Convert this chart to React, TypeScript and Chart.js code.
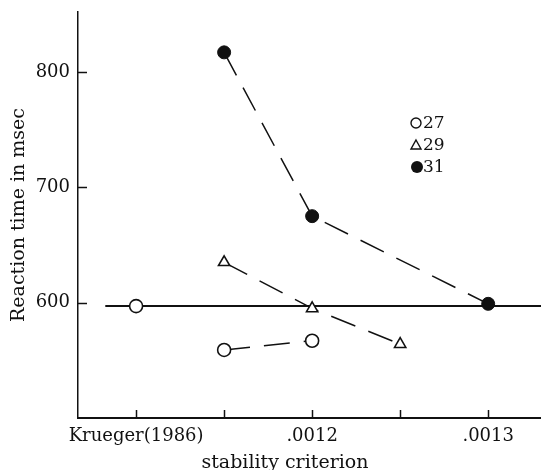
import { useEffect, useRef } from 'react';
import { Chart, registerables } from 'chart.js';

Chart.register(...registerables);

// ---- data ----
const xTickValues = [0, 1, 2, 3, 4];
const xTickLabels = ['Krueger(1986)', '', '.0012', '', '.0013'];
const yTickValues = [600, 700, 800];
const xTitle = 'stability criterion';
const yTitle = 'Reaction time in msec';

const legendLabels = ['27', '29', '31'];

const kruegerX = [0];
const kruegerY = [597];
const s27x = [1, 2];
const s27y = [559, 567];
const s29x = [1, 2, 3];
const s29y = [635, 595, 564];
const s31x = [1, 2, 4];
const s31y = [817, 675, 599];
const refLineX = [-0.35, 4.6];
const refLineY = [597, 597];

const FONT = "'DejaVu Serif', serif";
const INK = '#111';

const toPts = (xs: number[], ys: number[]) => xs.map((x, i) => ({ x, y: ys[i] }));

const tickMarksPlugin = {
  id: 'tickMarks',
  afterDraw(chart: any) {
    const { ctx, chartArea } = chart;
    const xs = chart.scales.x;
    const ys = chart.scales.y;
    ctx.save();
    ctx.strokeStyle = INK;
    ctx.lineWidth = 1.5;
    yTickValues.forEach((v) => {
      const y = Math.round(ys.getPixelForValue(v)) + 0.5;
      ctx.beginPath();
      ctx.moveTo(chartArea.left, y);
      ctx.lineTo(chartArea.left + 9, y);
      ctx.stroke();
    });
    xTickValues.forEach((v) => {
      const x = Math.round(xs.getPixelForValue(v)) + 0.5;
      ctx.beginPath();
      ctx.moveTo(x, chartArea.bottom);
      ctx.lineTo(x, chartArea.bottom - 8);
      ctx.stroke();
    });
    ctx.restore();
  },
};

const xTitlePlugin = {
  id: 'xTitleText',
  afterDraw(chart: any) {
    const { ctx, chartArea } = chart;
    ctx.save();
    ctx.fillStyle = INK;
    ctx.font = `19px ${FONT}`;
    ctx.textAlign = 'center';
    ctx.textBaseline = 'middle';
    const cx = chartArea.left + (chartArea.right - chartArea.left) * 0.447;
    ctx.fillText(xTitle, cx, chartArea.bottom + 45);
    ctx.restore();
  },
};

const legendPlugin = {
  id: 'customLegend',
  afterDraw(chart: any) {
    const { ctx, chartArea } = chart;
    const mx = chartArea.left + 338;
    const y0 = chartArea.top + 111;
    const dy = 22;
    ctx.save();
    ctx.font = `17px ${FONT}`;
    ctx.textAlign = 'left';
    ctx.textBaseline = 'middle';
    legendLabels.forEach((lab, i) => {
      const y = y0 + i * dy;
      ctx.lineWidth = 1.4;
      ctx.strokeStyle = INK;
      ctx.fillStyle = INK;
      if (i === 0) {
        ctx.beginPath();
        ctx.arc(mx, y, 5, 0, Math.PI * 2);
        ctx.fillStyle = '#fff';
        ctx.fill();
        ctx.stroke();
      } else if (i === 1) {
        ctx.beginPath();
        ctx.moveTo(mx, y - 5);
        ctx.lineTo(mx + 5, y + 4);
        ctx.lineTo(mx - 5, y + 4);
        ctx.closePath();
        ctx.fillStyle = '#fff';
        ctx.fill();
        ctx.stroke();
      } else {
        ctx.beginPath();
        ctx.arc(mx + 1, y, 6, 0, Math.PI * 2);
        ctx.fill();
      }
      ctx.fillStyle = INK;
      ctx.fillText(lab, mx + 7, y + 1);
    });
    ctx.restore();
  },
};

export default function App() {
  const ref = useRef<HTMLCanvasElement | null>(null);

  useEffect(() => {
    document.body.style.margin = '0';
    const canvas = ref.current;
    if (!canvas) return;
    const dash = [26, 14];
    const openCircle = {
      borderColor: INK,
      borderWidth: 1.5,
      borderDash: dash,
      pointStyle: 'circle',
      pointRadius: 6.5,
      pointBorderWidth: 1.6,
      pointBackgroundColor: '#fff',
      pointBorderColor: INK,
    };
    const chart = new Chart(canvas, {
      type: 'line',
      data: {
        datasets: [
          {
            label: legendLabels[0] + ' Krueger',
            data: toPts(kruegerX, kruegerY),
            ...openCircle,
            showLine: false,
          },
          {
            label: legendLabels[0],
            data: toPts(s27x, s27y),
            ...openCircle,
            showLine: true,
          },
          {
            label: legendLabels[1],
            data: toPts(s29x, s29y),
            borderColor: INK,
            borderWidth: 1.5,
            borderDash: dash,
            pointStyle: 'triangle',
            pointRadius: 6.5,
            pointBorderWidth: 1.6,
            pointBackgroundColor: '#fff',
            pointBorderColor: INK,
            showLine: true,
          },
          {
            label: legendLabels[2],
            data: toPts(s31x, s31y),
            borderColor: INK,
            borderWidth: 1.5,
            borderDash: dash,
            pointStyle: 'circle',
            pointRadius: 6.5,
            pointBorderWidth: 1,
            pointBackgroundColor: INK,
            pointBorderColor: INK,
            showLine: true,
          },
          {
            label: 'ref',
            data: toPts(refLineX, refLineY),
            borderColor: INK,
            borderWidth: 2,
            pointRadius: 0,
            showLine: true,
          },
        ],
      } as any,
      options: {
        responsive: false,
        animation: false,
        layout: { autoPadding: false, padding: { top: 12, right: 0, left: 0, bottom: 0 } },
        plugins: {
          legend: { display: false },
          tooltip: { enabled: false },
        },
        scales: {
          x: {
            type: 'linear',
            min: -0.66,
            max: 4.6,
            afterBuildTicks: (scale: any) => {
              scale.ticks = xTickValues.map((v) => ({ value: v }));
            },
            afterFit: (scale: any) => {
              scale.height = 52;
              scale.paddingLeft = 0;
              scale.paddingRight = 0;
            },
            grid: { display: false, drawTicks: false },
            border: { display: true, color: INK, width: 2 },
            ticks: {
              autoSkip: false,
              maxRotation: 0,
              padding: 8,
              color: INK,
              font: { family: FONT, size: 18 },
              callback: (v: any) => {
                const i = xTickValues.indexOf(Number(v));
                return i >= 0 ? xTickLabels[i] : '';
              },
            },
            title: { display: false },
          },
          y: {
            type: 'linear',
            min: 500,
            max: 852,
            afterBuildTicks: (scale: any) => {
              scale.ticks = yTickValues.map((v) => ({ value: v }));
            },
            afterFit: (scale: any) => {
              scale.width = 78;
              scale.paddingTop = 0;
              scale.paddingBottom = 0;
            },
            grid: { display: false, drawTicks: false },
            border: { display: true, color: INK, width: 1.5 },
            ticks: {
              padding: 8,
              color: INK,
              font: { family: FONT, size: 18 },
              callback: (v: any) => String(v),
            },
            title: {
              display: true,
              text: yTitle,
              color: INK,
              font: { family: FONT, size: 19, lineHeight: 1 },
              padding: { top: 10, bottom: 0 },
            },
          },
        },
      } as any,
      plugins: [tickMarksPlugin, xTitlePlugin, legendPlugin],
    });
    return () => chart.destroy();
  }, []);

  return (
    <div style={{ width: 541, height: 470, background: '#fff' }}>
      <canvas ref={ref} width={541} height={470} style={{ display: 'block' }} />
    </div>
  );
}
